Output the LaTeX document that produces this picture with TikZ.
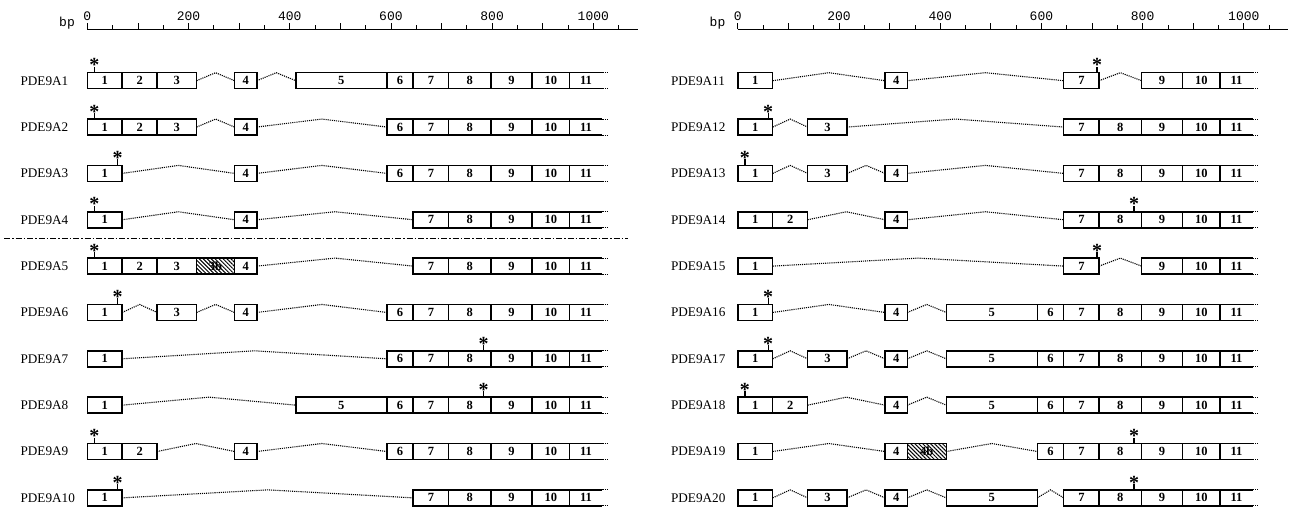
\documentclass[tikz,border=0pt]{standalone}
\usepackage{fontspec}
\setmainfont{Liberation Serif}
\setmonofont{Liberation Mono}
\usetikzlibrary{calc,patterns.meta}

% exon coordinates (bp)
\newcommand{\setexon}[3]{\pgfkeyssetvalue{/exon/#1/s}{#2}\pgfkeyssetvalue{/exon/#1/e}{#3}}
\setexon{1}{0}{69}
\setexon{2}{69}{138}
\setexon{3}{138}{216}
\setexon{3b}{216}{291}
\setexon{4}{291}{335}
\setexon{4b}{335}{412}
\setexon{5}{412}{592}
\setexon{6}{592}{644}
\setexon{7}{644}{714}
\setexon{8}{714}{798}
\setexon{9}{798}{879}
\setexon{10}{879}{953}

% #1 name, #2 shift, #3 label, #4 exons (11 added), #5 introns, #6 mutation (bp)
\newcommand{\isoform}[6]{%
  \begin{scope}[shift={#2},x=0.506pt]
    \node[isoname] (#1) at (-132.2,0) {#3};
    \foreach \n in {#4}
      \node[exon,exon \n/.try,minimum width={(\pgfkeysvalueof{/exon/\n/e}-\pgfkeysvalueof{/exon/\n/s})*0.506pt}]
        (#1-\n) at (\pgfkeysvalueof{/exon/\n/s},0) {\n};
    \node[exon,draw=none,minimum width={65*0.506pt}] (#1-11) at (953,0) {11};
    \draw[exonline] (#1-11.north west) -- (#1-11.north east);
    \draw[exonline] (#1-11.south west) -- (#1-11.south east);
    \draw[intron] (#1-11.north east) -- ++(11,0);
    \draw[intron] (#1-11.south east) -- ++(11,0);
    \foreach \a/\b in {#5}
      \draw[intron] (#1-\a.east) -- ($(#1-\a.north east)!.5!(#1-\b.north west)$) -- (#1-\b.west);
    \coordinate (#1-mut) at (#6,-8);
    \coordinate (#1-tip) at (#6,-14);
    \draw[stem] (#1-mut) -- (#1-tip);
    \node[mutstar] (#1-ast) at (#1-tip) {*};
  \end{scope}}

% #1 name, #2 shift
\newcommand{\bpruler}[2]{%
  \begin{scope}[shift={#2},x=0.506pt]
    \coordinate (#1-0) at (0,0);
    \coordinate (#1-end) at (1088,0);
    \draw[ruler] (#1-0) -- (#1-end);
    \foreach \t in {50,150,...,1050} \draw[ruler] (\t,0) -- (\t,-4.3);
    \foreach \t in {0,100,...,1000} \draw[ruler] (\t,0) -- (\t,-6.6);
    \foreach \t in {0,200,...,1000} \node[rulerlabel] at (\t,-9.3) {\t};
    \node[rulerlabel,anchor=base east] (#1-bp) at (-24.3,-3.3) {bp};
  \end{scope}}

\begin{document}
\begin{tikzpicture}[x=1pt,y=-1pt,
  exon/.style={draw,line width=1.5pt,inner sep=0,outer sep=0,anchor=west,minimum height=16pt,
    font=\fontsize{12.5}{13}\selectfont\bfseries},
  exonline/.style={line width=1.5pt},
  exon 3b/.style={pattern={Lines[angle=-45,distance=2.8pt,line width=1pt]}},
  exon 4b/.style={pattern={Lines[angle=-45,distance=2.8pt,line width=1pt]}},
  intron/.style={densely dotted,line width=1.1pt},
  stem/.style={line width=1.3pt},
  mutstar/.style={inner sep=0,anchor=base,yshift=-5.2pt,font=\fontsize{20}{20}\selectfont\bfseries},
  isoname/.style={inner sep=0,anchor=west,font=\fontsize{13.2}{15}\selectfont},
  ruler/.style={line width=0.8pt},
  rulerlabel/.style={inner sep=0,anchor=base,font=\fontsize{13}{14}\ttfamily},
  separator/.style={line width=1.1pt,dash pattern=on 6pt off 2pt on 1.5pt off 2pt}]
\useasboundingbox (0,0) rectangle (1289,507);

\bpruler{rl}{(87.3,29.3)}
\bpruler{rr}{(737.8,29.3)}

% left panel
\isoform{a1}{(87.3,80.7)}{PDE9A1}{1,2,3,4,5,6,7,8,9,10}{3/4,4/5}{14}
\isoform{a2}{(87.3,127.05)}{PDE9A2}{1,2,3,4,6,7,8,9,10}{3/4,4/6}{14}
\isoform{a3}{(87.3,173.4)}{PDE9A3}{1,4,6,7,8,9,10}{1/4,4/6}{60}
\isoform{a4}{(87.3,219.75)}{PDE9A4}{1,4,7,8,9,10}{1/4,4/7}{14}
\isoform{a5}{(87.3,266.1)}{PDE9A5}{1,2,3,3b,4,7,8,9,10}{4/7}{14}
\isoform{a6}{(87.3,312.45)}{PDE9A6}{1,3,4,6,7,8,9,10}{1/3,3/4,4/6}{60}
\isoform{a7}{(87.3,358.8)}{PDE9A7}{1,6,7,8,9,10}{1/6}{783}
\isoform{a8}{(87.3,405.15)}{PDE9A8}{1,5,6,7,8,9,10}{1/5}{783}
\isoform{a9}{(87.3,451.5)}{PDE9A9}{1,2,4,6,7,8,9,10}{2/4,4/6}{14}
\isoform{a10}{(87.3,497.85)}{PDE9A10}{1,7,8,9,10}{1/7}{60}

\coordinate (sepl) at (4,238.3);
\coordinate (sepr) at (628,238.3);
\draw[separator] (sepl) -- (sepr);

% right panel
\isoform{a11}{(737.8,80.7)}{PDE9A11}{1,4,7,9,10}{1/4,4/7,7/9}{710}
\isoform{a12}{(737.8,127.05)}{PDE9A12}{1,3,7,8,9,10}{1/3,3/7}{60}
\isoform{a13}{(737.8,173.4)}{PDE9A13}{1,3,4,7,8,9,10}{1/3,3/4,4/7}{14}
\isoform{a14}{(737.8,219.75)}{PDE9A14}{1,2,4,7,8,9,10}{2/4,4/7}{783}
\isoform{a15}{(737.8,266.1)}{PDE9A15}{1,7,9,10}{1/7,7/9}{710}
\isoform{a16}{(737.8,312.45)}{PDE9A16}{1,4,5,6,7,8,9,10}{1/4,4/5}{60}
\isoform{a17}{(737.8,358.8)}{PDE9A17}{1,3,4,5,6,7,8,9,10}{1/3,3/4,4/5}{60}
\isoform{a18}{(737.8,405.15)}{PDE9A18}{1,2,4,5,6,7,8,9,10}{2/4,4/5}{14}
\isoform{a19}{(737.8,451.5)}{PDE9A19}{1,4,4b,6,7,8,9,10}{1/4,4b/6}{783}
\isoform{a20}{(737.8,497.85)}{PDE9A20}{1,3,4,5,7,8,9,10}{1/3,3/4,4/5,5/7}{783}
\end{tikzpicture}
\end{document}
